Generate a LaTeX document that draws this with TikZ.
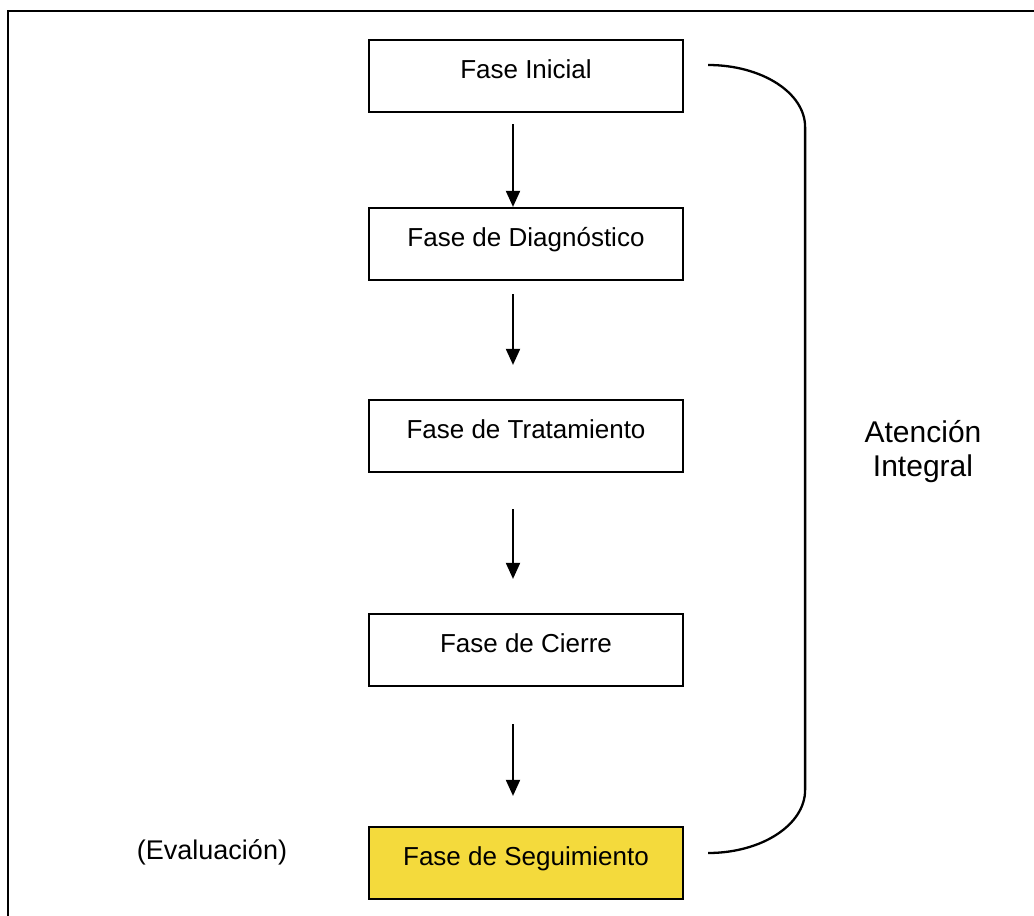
\documentclass[tikz,border=0pt]{standalone}
\usepackage{fontspec}
\setmainfont{Liberation Sans}
\usetikzlibrary{arrows.meta}
\definecolor{phaseyellow}{RGB}{244,218,60}
\begin{document}
\begin{tikzpicture}[x=1pt,y=-1pt,
  phasebox/.style={draw=black, line width=2.2pt, minimum width=314pt, minimum height=72pt, inner sep=0pt,
    font=\fontsize{26pt}{30pt}\selectfont, text height=20pt, text depth=15pt},
  flowarrow/.style={draw=black, line width=1.9pt, -{Triangle[length=16pt,width=14pt]}},
  bracketline/.style={draw=black, line width=2.3pt},
  frameline/.style={draw=black, line width=2.5pt},
  sidelabel/.style={inner sep=0pt, align=center}]
\path[use as bounding box] (0,0) rectangle (1034,916);
\fill[white] (0,0) rectangle (1034,916);
\clip (0,0) rectangle (1034,916);
\draw[frameline] (8,11) rectangle (1060,940);

\node[phasebox] (b1) at (526,76) {Fase Inicial};
\node[phasebox] (b2) at (526,244) {Fase de Diagnóstico};
\node[phasebox] (b3) at (526,436) {Fase de Tratamiento};
\node[phasebox] (b4) at (526,650) {Fase de Cierre};
\node[phasebox, fill=phaseyellow] (b5) at (526,863) {Fase de Seguimiento};

\draw[flowarrow] ([xshift=-13pt,yshift=-11pt]b1.south) -- ([xshift=-13pt]b2.north);
\draw[flowarrow] ([xshift=-13pt,yshift=-13pt]b2.south) -- ([xshift=-13pt,yshift=34pt]b3.north);
\draw[flowarrow] ([xshift=-13pt,yshift=-36pt]b3.south) -- ([xshift=-13pt,yshift=34pt]b4.north);
\draw[flowarrow] ([xshift=-13pt,yshift=-37pt]b4.south) -- ([xshift=-13pt,yshift=30pt]b5.north);

\coordinate (bt) at ([xshift=24pt,yshift=11pt]b1.east);
\draw[bracketline] (bt) arc[start angle=90, end angle=0, x radius=97pt, y radius=62pt]
  -- ++(0,663) arc[start angle=0, end angle=-90, x radius=97pt, y radius=63pt];

\node[sidelabel, font=\fontsize{30pt}{34pt}\selectfont] (att) at (923,452) {Atención\\Integral};
\node[sidelabel, font=\fontsize{27pt}{32pt}\selectfont] (eva) at (212,852) {(Evaluación)};
\end{tikzpicture}
\end{document}
